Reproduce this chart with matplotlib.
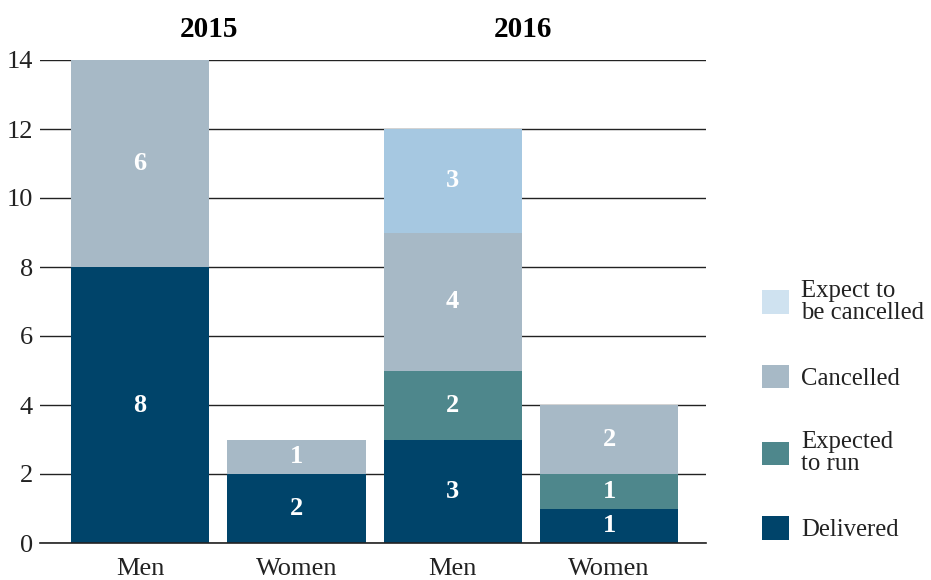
import matplotlib.pyplot as plt
import numpy as np
from matplotlib.patches import Patch

plt.rcParams['font.family'] = ['Liberation Serif', 'DejaVu Serif']

# data
groups = ["Men", "Women", "Men", "Women"]
years = ["2015", "2016"]
delivered = [8, 2, 3, 1]
expected_run = [0, 0, 2, 1]
cancelled = [6, 1, 4, 2]
expect_cancel = [0, 0, 3, 0]

series = [
    ("Delivered", delivered, '#00446a'),
    ("Expected\nto run", expected_run, '#4e878c'),
    ("Cancelled", cancelled, '#a7b9c6'),
    ("Expect to\nbe cancelled", expect_cancel, '#a6c8e1'),
]
legend_colors = ['#cfe2f0', '#a7b9c6', '#4e878c', '#00446a']

fig = plt.figure(figsize=(9.31, 5.8), dpi=100)
ax = fig.add_axes([40 / 931, 37 / 580, 666 / 931, 483 / 580])

x = np.arange(len(groups))
bottom = np.zeros(len(groups))
for name, vals, color in series:
    vals = np.array(vals, dtype=float)
    ax.bar(x, vals, bottom=bottom, width=0.885, color=color, zorder=2)
    for xi, b, v in zip(x, bottom, vals):
        if v > 0:
            ax.text(xi, b + v / 2, f"{int(v)}", ha='center', va='center',
                    color='white', fontsize=19, fontweight='bold', zorder=3)
    bottom += vals

ax.set_xlim(-0.64, 3.62)
ax.set_ylim(0, 14)
ax.set_yticks(np.arange(0, 15, 2))
ax.set_xticks(x)
ax.set_xticklabels(groups)
ax.tick_params(axis='both', length=0, labelsize=19, colors='#222222')
ax.tick_params(axis='y', pad=5)
ax.tick_params(axis='x', pad=11)
ax.yaxis.grid(True, color='#222222', linewidth=1)
ax.set_axisbelow(True)
for s in ['top', 'right', 'left']:
    ax.spines[s].set_visible(False)
ax.spines['bottom'].set_color('#222222')
ax.spines['bottom'].set_linewidth(1.2)

# year headers
ax.text(0.44, 14.5, years[0], ha='center', va='bottom', fontsize=21, fontweight='bold')
ax.text(2.45, 14.5, years[1], ha='center', va='bottom', fontsize=21, fontweight='bold')

handles = [Patch(facecolor=c) for c in legend_colors]
labels = [s[0] for s in series][::-1]
leg = fig.legend(handles, labels, loc='center left', bbox_to_anchor=(740 / 931, 0.292),
                 frameon=False, fontsize=17.8, handlelength=1.08, handleheight=1.08,
                 handletextpad=0.5, labelspacing=1.66)
for t in leg.get_texts():
    t.set_linespacing(1.0)
    t.set_color('#222222')

plt.savefig("out.png", dpi=100)
